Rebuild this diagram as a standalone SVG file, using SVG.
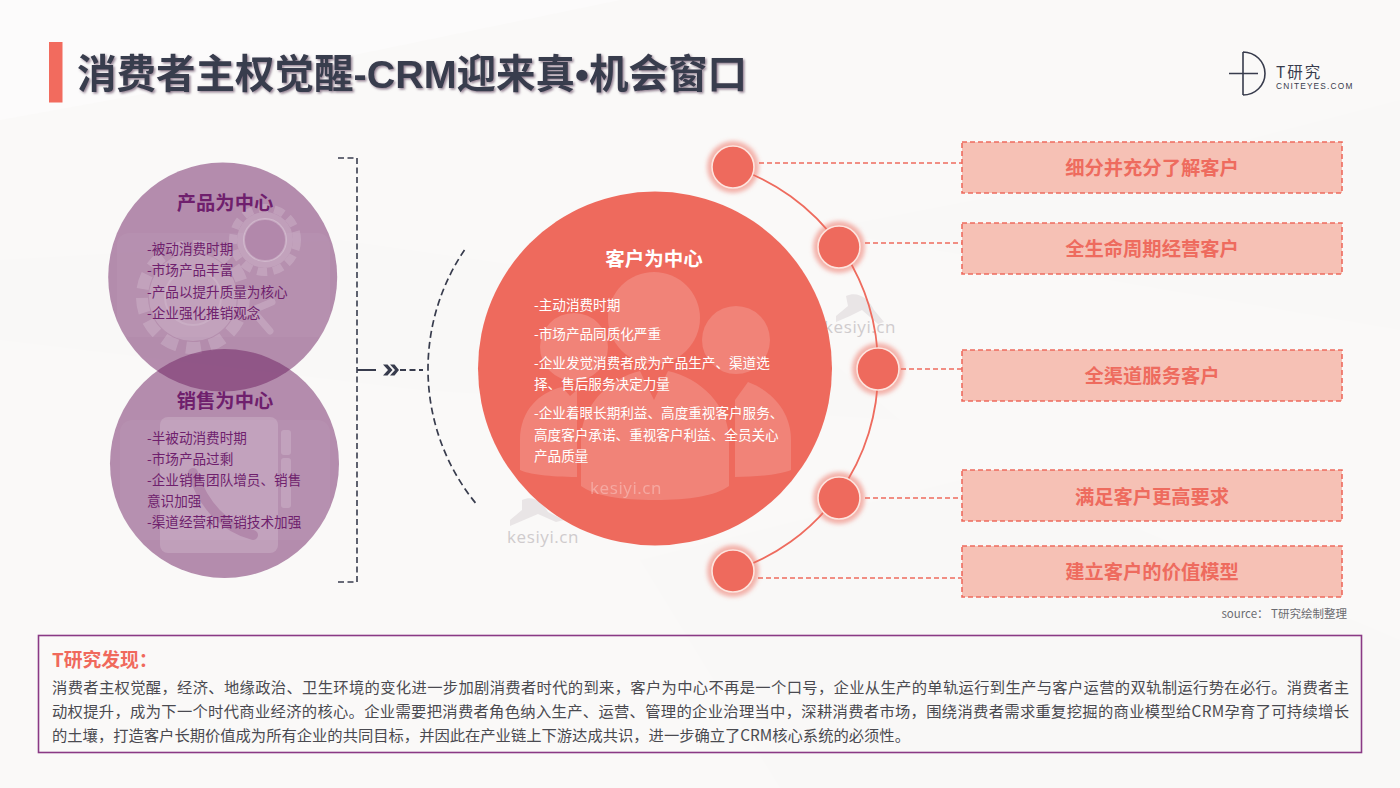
<svg xmlns="http://www.w3.org/2000/svg" width="1400" height="788" viewBox="0 0 1400 788">
<defs>
<style>
text{font-family:"Noto Sans CJK SC","Liberation Sans",sans-serif}
.pt{font-size:19.300px;font-weight:700;fill:#6f1f6d;text-anchor:middle}
.pl{font-size:13.600px;fill:#6f1f6d}
.wt{font-size:19.500px;font-weight:700;fill:#fff;text-anchor:middle}
.wl{font-size:13.600px;fill:#fff}
.lab{font-size:19.300px;font-weight:700;fill:#ee6b5e;text-anchor:middle}
.box{fill:#f6c1b5;stroke:#ee6b5e;stroke-width:1.6;stroke-dasharray:5 3}
.dash{fill:none;stroke:#ee6b5e;stroke-width:1.6;stroke-dasharray:5 3}
.body{font-size:15.300px;fill:#4a4a50}
.wm{font-size:17px;fill:#cfcbcd;letter-spacing:.6px;font-family:"Open Sans","Liberation Sans",sans-serif}
.ic{fill:#fff;fill-opacity:.17}
.glow{fill:#ee6b5e;fill-opacity:.5;filter:url(#blur)}
.ring{fill:#ee6a5d;stroke:#fde4de;stroke-width:1.6}
.dk{fill:none;stroke:#383c4d;stroke-width:1.6}
.lat{font-family:"Liberation Sans",sans-serif}
</style>
<filter id="blur" x="-30%" y="-30%" width="160%" height="160%"><feGaussianBlur stdDeviation="2"/></filter>
<filter id="shadow" x="-5%" y="-20%" width="110%" height="140%"><feDropShadow dx="1.500" dy="1.500" stdDeviation=".8" flood-color="#6f5a70" flood-opacity=".75"/></filter>
<clipPath id="c1"><circle cx="222.700" cy="277" r="114.500"/></clipPath>
<clipPath id="c2"><circle cx="224.500" cy="463.500" r="114.500"/></clipPath>
</defs>

<g id="background">
<rect width="1400" height="788" fill="#faf9f8"/>
<path d="M0 120 L330 60 L620 0 L0 0Z" fill="#fcfbfb"/>
<path d="M820 230 L1130 170 L1400 100 L1400 330 L1050 270Z" fill="#f9f8f7"/>
<path d="M0 260 L340 240 L760 300 L900 420 L420 390 L0 340Z" fill="#f9f8f7"/>
<path d="M640 560 L1000 470 L1400 640 L1400 788 L780 788Z" fill="#f9f8f7"/>
</g>

<g id="title">
<rect x="49" y="42" width="13.500" height="60.500" fill="#f26b5e"/>
<text x="77" y="88" font-size="39.500" font-weight="700" fill="#383c4d" filter="url(#shadow)">消费者主权觉醒<tspan class="lat">-CRM</tspan>迎来真<tspan class="lat">•</tspan>机会窗口</text>
</g>

<g id="logo">
<path d="M1243 52V95M1243 52A22 21.500 0 0 1 1243 95M1229 73.500H1258" fill="none" stroke="#383c4d" stroke-width="1.600"/>
<text x="1276" y="78" font-size="15.500" fill="#383c4d" letter-spacing="2">T研究</text>
<text x="1276" y="89" font-size="8.300" fill="#383c4d" letter-spacing="1.200" class="lat">CNITEYES.COM</text>
</g>

<g id="watermarks">
<path d="M846 296c12-5 22 2 28 14l10 12-6 2-16-14-12 6-14 6 0-6 12-10z" fill="#e9e5e6"/>
<path d="M522 500c12-5 20 2 26 12l16 8-8 2-18-8-14 6-14 6 0-6 12-10z" fill="#e9e5e6"/>
<text x="824" y="333" class="wm">kesiyi.cn</text>
<text x="507" y="543" class="wm">kesiyi.cn</text>
</g>

<g id="connectors">
<path class="dk" stroke-dasharray="6 3.500" d="M338 158H357V582H338"/>
<path class="dk" style="stroke-width:2" d="M357 370H376"/>
<path class="dk" style="stroke-width:1.800" stroke-dasharray="6 3.500" d="M400 370H423"/>
<path d="M383 364.500h4.500l5 5.500-5 5.500h-4.500l5-5.500zM390 364.500h4.500l4.500 5.500-4.500 5.500H390l5-5.500z" fill="#383c4d"/>
<path class="dk" style="stroke-width:1.700" stroke-dasharray="7 4" d="M464.500 250A212.500 212.500 0 0 0 478 506"/>
<path d="M733 167A210 210 0 0 1 878 369A210 210 0 0 1 733 571" fill="none" stroke="#ee6b5e" stroke-width="1.800"/>
<path class="dash" d="M759 163H962"/>
<path class="dash" d="M865 243H962"/>
<path class="dash" d="M901 369H962"/>
<path class="dash" d="M865 498H962"/>
<path class="dash" d="M758 578H962"/>
</g>

<g id="node-product">
<circle cx="222.700" cy="277" r="114.500" fill="#6d1f62" fill-opacity=".5"/>
<g clip-path="url(#c1)">
<rect x="117" y="233" width="213" height="104" rx="12" fill="#fff" fill-opacity=".04"/>
<g opacity=".17">
<circle cx="193" cy="297" r="44" fill="#fff"/>
<circle cx="193" cy="297" r="51" fill="none" stroke="#fff" stroke-width="12" stroke-dasharray="15 9"/>
<circle cx="265" cy="240" r="28" fill="#fff"/>
<circle cx="265" cy="240" r="32" fill="none" stroke="#fff" stroke-width="8" stroke-dasharray="10 6"/>
<path d="M258 317l12 14M246 313l26-11" stroke="#fff" stroke-width="7" stroke-linecap="round"/>
</g>
<circle cx="193" cy="297" r="28" fill="none" stroke="#fff" stroke-opacity=".12" stroke-width="2"/>
<circle cx="265" cy="240" r="21" fill="#b288ab" stroke="#fff" stroke-opacity=".25" stroke-width="2"/>
</g>
<text x="225" y="210" class="pt">产品为中心</text>
<text x="147" y="254" class="pl">-被动消费时期</text>
<text x="147" y="275" class="pl">-市场产品丰富</text>
<text x="147" y="297" class="pl">-产品以提升质量为核心</text>
<text x="147" y="318" class="pl">-企业强化推销观念</text>
</g>

<g id="node-sales">
<circle cx="224.500" cy="463.500" r="114.500" fill="#6d1f62" fill-opacity=".5"/>
<g clip-path="url(#c2)">
<rect x="120" y="420" width="210" height="120" rx="12" fill="#fff" fill-opacity=".04"/>
<rect x="160" y="417" width="118" height="136" rx="8" class="ic"/>
<rect x="281" y="430" width="10" height="25" rx="3" class="ic"/>
<rect x="281" y="458" width="10" height="50" rx="3" class="ic"/>
<path d="M193 473C203 505 225 528 253 535" fill="none" stroke="#b288ab" stroke-width="10" stroke-linecap="round"/>
</g>
<text x="225" y="408" class="pt">销售为中心</text>
<text x="147" y="443" class="pl">-半被动消费时期</text>
<text x="147" y="463.500" class="pl">-市场产品过剩</text>
<text x="147" y="485" class="pl">-企业销售团队增员、销售</text>
<text x="147" y="506" class="pl">意识加强</text>
<text x="147" y="527" class="pl">-渠道经营和营销技术加强</text>
</g>

<g id="node-customer">
<circle cx="655" cy="368.500" r="177" fill="#ee6a5d"/>
<circle cx="654" cy="318" r="46" class="ic"/>
<circle cx="574" cy="347" r="34" class="ic"/>
<circle cx="736" cy="340" r="34" class="ic"/>
<path d="M520 470V440C520 410 540 392 562 387L570 396 577 390V477C550 477 528 474 520 470Z" class="ic"/>
<path d="M791 470V440C791 410 770 390 748 382L735 400V477C760 477 782 474 791 470Z" class="ic"/>
<path d="M581 486V440C581 405 610 378 640 371L654 400 668 371C700 378 729 405 729 440V486C715 496 690 500 655 500 620 500 595 496 581 486Z" class="ic"/>
<text x="654" y="266" class="wt">客户为中心</text>
<text x="534" y="310" class="wl">-主动消费时期</text>
<text x="534" y="339" class="wl">-市场产品同质化严重</text>
<text x="534" y="368" class="wl">-企业发觉消费者成为产品生产、渠道选</text>
<text x="534" y="389" class="wl">择、售后服务决定力量</text>
<text x="534" y="418" class="wl">-企业着眼长期利益、高度重视客户服务、</text>
<text x="534" y="440" class="wl">高度客户承诺、重视客户利益、全员关心</text>
<text x="534" y="461" class="wl">产品质量</text>
<text x="590" y="494" class="wm" style="fill:#fff;opacity:.3">kesiyi.cn</text>
</g>

<g id="dot-1"><circle cx="733" cy="167" r="26" class="glow"/><circle cx="733" cy="167" r="21" class="ring"/></g>
<g id="dot-2"><circle cx="839" cy="247" r="26" class="glow"/><circle cx="839" cy="247" r="21" class="ring"/></g>
<g id="dot-3"><circle cx="878" cy="369" r="26" class="glow"/><circle cx="878" cy="369" r="21" class="ring"/></g>
<g id="dot-4"><circle cx="839" cy="498" r="26" class="glow"/><circle cx="839" cy="498" r="21" class="ring"/></g>
<g id="dot-5"><circle cx="733" cy="571" r="26" class="glow"/><circle cx="733" cy="571" r="21" class="ring"/></g>

<g id="box-1"><rect x="962" y="142" width="380" height="51" class="box"/><text x="1152" y="174.500" class="lab">细分并充分了解客户</text></g>
<g id="box-2"><rect x="962" y="223" width="380" height="51" class="box"/><text x="1152" y="255.500" class="lab">全生命周期经营客户</text></g>
<g id="box-3"><rect x="962" y="350" width="380" height="51" class="box"/><text x="1152" y="382.500" class="lab">全渠道服务客户</text></g>
<g id="box-4"><rect x="962" y="470" width="380" height="51" class="box"/><text x="1152" y="503.500" class="lab">满足客户更高要求</text></g>
<g id="box-5"><rect x="962" y="546" width="380" height="51" class="box"/><text x="1152" y="579" class="lab">建立客户的价值模型</text></g>

<text id="source" x="1347" y="618" font-size="11.500" fill="#6b6b70" text-anchor="end">source： T研究绘制整理</text>

<g id="finding">
<rect x="38.500" y="635.500" width="1323" height="117" fill="none" stroke="#8a3a85" stroke-width="1.600"/>
<text x="52" y="667" font-size="18.800" font-weight="700" fill="#f0695c">T研究发现：</text>
<text x="52" y="693" class="body" textLength="1297">消费者主权觉醒，经济、地缘政治、卫生环境的变化进一步加剧消费者时代的到来，客户为中心不再是一个口号，企业从生产的单轨运行到生产与客户运营的双轨制运行势在必行。消费者主</text>
<text x="52" y="717" class="body" textLength="1297">动权提升，成为下一个时代商业经济的核心。企业需要把消费者角色纳入生产、运营、管理的企业治理当中，深耕消费者市场，围绕消费者需求重复挖掘的商业模型给CRM孕育了可持续增长</text>
<text x="52" y="741" class="body">的土壤，打造客户长期价值成为所有企业的共同目标，并因此在产业链上下游达成共识，进一步确立了CRM核心系统的必须性。</text>
</g>
</svg>
